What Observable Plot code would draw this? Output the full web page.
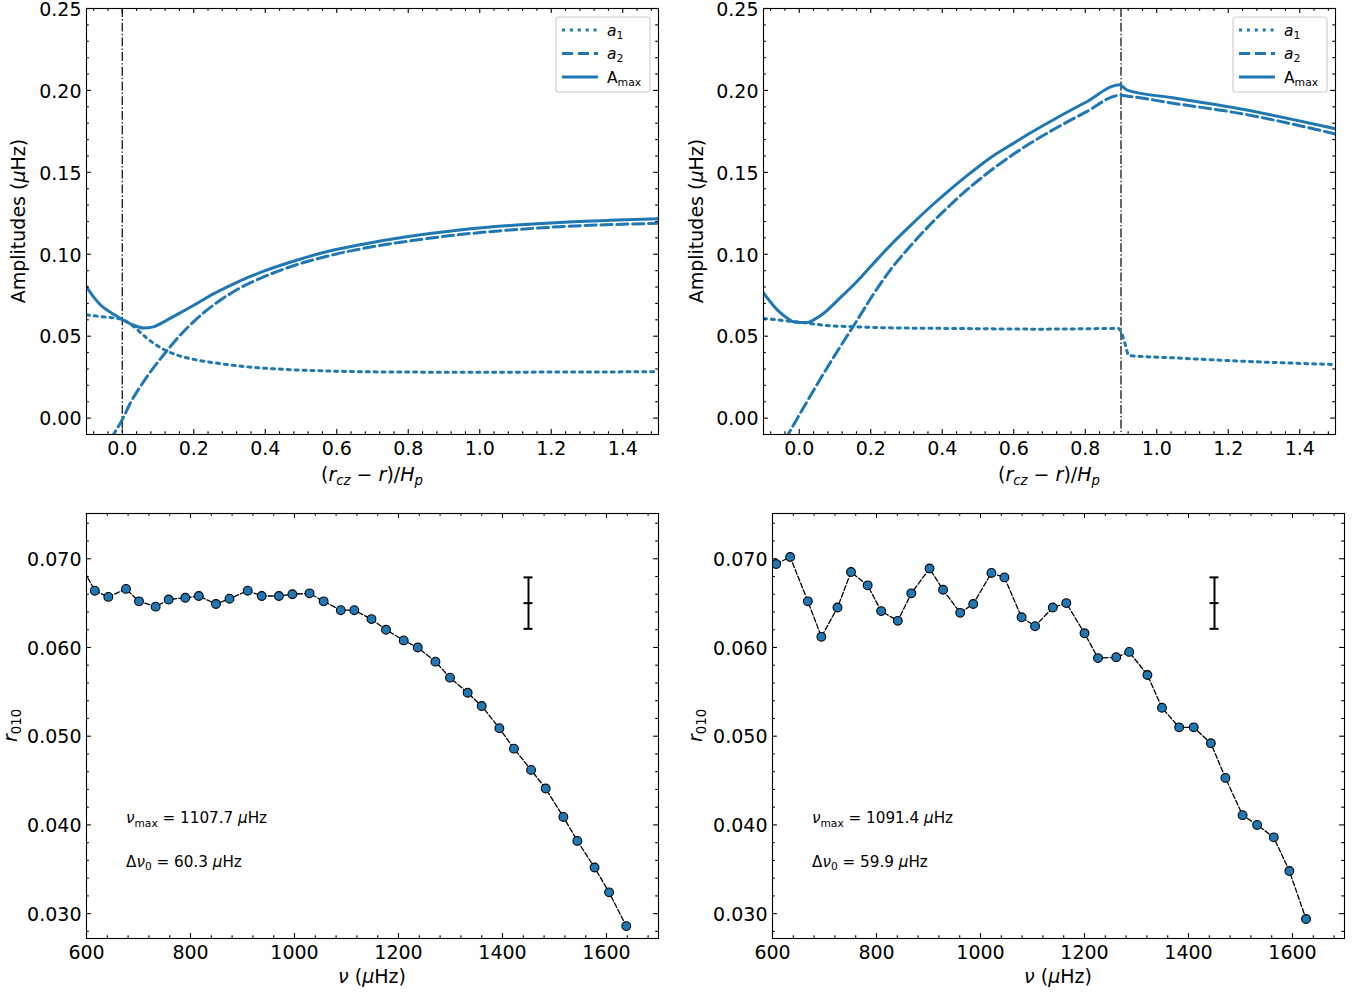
<!DOCTYPE html>
<html><head><meta charset="utf-8">
<script src="https://cdn.jsdelivr.net/npm/d3@7"></script>
<script src="https://cdn.jsdelivr.net/npm/@observablehq/plot@0.6"></script>
<style>
body{margin:0;background:#fff;}
#root{position:relative;width:1365px;height:996px;overflow:hidden;background:#fff;}
</style></head><body><div id="root"></div>
<script>
// ---------- Top-left panel data ----------
const tlA1x = [-0.1, -0.06, -0.02, 0, 0.03, 0.07, 0.11, 0.16, 0.21, 0.26, 0.35, 0.45, 0.55, 0.65, 0.8, 1.0, 1.2, 1.5];
const tlA1  = [0.0630, 0.0620, 0.0610, 0.0602, 0.0562, 0.0486, 0.0426, 0.0380, 0.0354, 0.0337, 0.0313, 0.0298, 0.0289, 0.0284, 0.0281, 0.0280, 0.0281, 0.0283];
const tlA2x = [-0.035, -0.024, 0, 0.022, 0.069, 0.115, 0.162, 0.208, 0.255, 0.33, 0.40, 0.49, 0.58, 0.67, 0.8, 0.944, 1.084, 1.224, 1.364, 1.5];
const tlA2  = [-0.0135, -0.0098, -0.001, 0.0089, 0.0252, 0.0384, 0.0506, 0.0606, 0.0690, 0.0795, 0.0866, 0.0938, 0.0992, 0.1034, 0.1080, 0.1120, 0.1148, 0.1168, 0.1181, 0.1189];
const tlAmx = [-0.1, -0.08, -0.06, -0.024, 0, 0.032, 0.06, 0.087, 0.125, 0.162, 0.208, 0.255, 0.33, 0.40, 0.49, 0.58, 0.67, 0.8, 0.944, 1.084, 1.224, 1.364, 1.5];
const tlAm  = [0.0801, 0.0738, 0.0689, 0.0634, 0.0602, 0.0567, 0.0550, 0.0557, 0.0598, 0.0642, 0.0699, 0.0758, 0.0838, 0.0900, 0.0965, 0.1020, 0.1060, 0.1108, 0.1148, 0.1175, 0.1194, 0.1207, 0.1217];
const tlVline = [0];

// ---------- Top-right panel data ----------
const trA1x = [-0.1, -0.024, 0.022, 0.069, 0.162, 0.255, 0.44, 0.673, 0.893, 0.902, 0.911, 0.922, 1.045, 1.232, 1.5];
const trA1  = [0.0608, 0.0591, 0.0580, 0.0567, 0.0557, 0.0551, 0.0547, 0.0543, 0.0547, 0.0516, 0.0455, 0.0382, 0.0368, 0.0348, 0.0327];
const trA2x = [-0.04, -0.03, 0.022, 0.069, 0.115, 0.162, 0.208, 0.255, 0.311, 0.367, 0.422, 0.478, 0.534, 0.59, 0.646, 0.72, 0.8, 0.897, 0.919, 1.045, 1.232, 1.5];
const trA2  = [-0.0133, -0.0095, 0.0102, 0.0275, 0.0437, 0.0598, 0.0758, 0.0905, 0.1050, 0.1183, 0.1300, 0.1410, 0.1508, 0.1597, 0.1677, 0.1772, 0.1866, 0.1970, 0.1965, 0.1922, 0.1860, 0.1734];
const trAmx = [-0.1, -0.061, -0.03, -0.015, 0.022, 0.04, 0.06, 0.115, 0.162, 0.208, 0.255, 0.311, 0.367, 0.422, 0.478, 0.534, 0.59, 0.646, 0.72, 0.8, 0.897, 0.905, 0.919, 1.045, 1.232, 1.5];
const trAm  = [0.0764, 0.0659, 0.0605, 0.0587, 0.0583, 0.0600, 0.0626, 0.0735, 0.0835, 0.0945, 0.1055, 0.1175, 0.1290, 0.1395, 0.1495, 0.1588, 0.1665, 0.1740, 0.1832, 0.1926, 0.2035, 0.2022, 0.2000, 0.1955, 0.1888, 0.1766];
const trVline = [0.9];

// ---------- Bottom-left panel data ----------
const blNu = [589, 616, 642, 676, 701, 733, 758, 790, 816, 849, 875, 910, 937, 970, 996, 1029, 1056, 1089, 1115, 1148, 1176, 1210, 1237, 1271, 1299, 1333, 1360, 1394, 1422, 1455, 1483, 1517, 1544, 1577, 1605, 1638];
const blR  = [0.0693, 0.0664, 0.0657, 0.0666, 0.0652, 0.0646, 0.0654, 0.0656, 0.0658, 0.0649, 0.0655, 0.0664, 0.0658, 0.0658, 0.0660, 0.0661, 0.0652, 0.0642, 0.0642, 0.0632, 0.0620, 0.0608, 0.0600, 0.0584, 0.0566, 0.0549, 0.0534, 0.0509, 0.0486, 0.0462, 0.0441, 0.0409, 0.0382, 0.0352, 0.0324, 0.0286];
const blNote = ["1107.7", "60.3"];

// ---------- Bottom-right panel data ----------
const brNu = [607, 634, 668, 694, 725, 751, 783, 809, 841, 867, 902, 928, 961, 986, 1021, 1046, 1079, 1105, 1139, 1165, 1200, 1226, 1261, 1286, 1321, 1349, 1382, 1410, 1443, 1471, 1504, 1532, 1564, 1594, 1626];
const brR  = [0.0694, 0.0702, 0.0652, 0.0612, 0.0645, 0.0685, 0.0670, 0.0641, 0.0630, 0.0661, 0.0689, 0.0665, 0.0639, 0.0649, 0.0684, 0.0679, 0.0634, 0.0624, 0.0645, 0.0650, 0.0616, 0.0588, 0.0589, 0.0595, 0.0569, 0.0532, 0.0510, 0.0510, 0.0492, 0.0453, 0.0411, 0.0400, 0.0386, 0.0348, 0.0294];
const brNote = ["1091.4", "59.9"];

// error bar (same in both lower panels)
const errNu = [1450];
const errR  = [0.0650];
const errE  = [0.0029];

// annotation anchors (data coords)
const noteNu = 677;
const noteR  = [0.0407, 0.0358];

// ---------- ticks ----------
const topXMajor = [0, 0.2, 0.4, 0.6, 0.8, 1.0, 1.2, 1.4];
const topYMajor = [0, 0.05, 0.10, 0.15, 0.20, 0.25];
const botXMajor = [600, 800, 1000, 1200, 1400, 1600];
const botYMajor = [0.030, 0.040, 0.050, 0.060, 0.070];
const notIn = (arr) => v => !arr.some(m => Math.abs(m - v) < 1e-9);
const topXMinor = d3.range(-0.08, 1.49, 0.04).map(v => +v.toFixed(3)).filter(notIn(topXMajor));
const topYMinor = d3.range(0.01, 0.245, 0.01).map(v => +v.toFixed(3)).filter(notIn(topYMajor));
const botXMinor = d3.range(640, 1690, 40).filter(notIn(botXMajor));
const botYMinor = d3.range(0.028, 0.0745, 0.002).map(v => +v.toFixed(4)).filter(notIn(botYMajor));

const BLUE = "#1f77b4";
const FONT = "DejaVu Sans";
const FS = 19;
const LW = 3;
const root = document.getElementById("root");

const zipXY = (xs, ys) => xs.map((x, i) => ({x, y: ys[i]}));

function rich(g, x, y, parts, fs, anchor = "start", transform = null) {
  const t = g.append("text").attr("x", x).attr("y", y)
    .attr("font-size", fs).attr("font-family", FONT).attr("fill", "black")
    .attr("text-anchor", anchor);
  if (transform) t.attr("transform", transform);
  let down = false;
  for (const p of parts) {
    const s = t.append("tspan").text(p.t);
    if (p.i) s.attr("font-style", "italic");
    if (p.sub) {
      s.attr("font-size", fs * 0.7);
      if (!down) { s.attr("dy", fs * 0.22); down = true; }
    } else if (down) { s.attr("dy", -fs * 0.22); down = false; }
  }
  return t;
}

function panel(cfg) {
  const {left, top, width, height, mL, mR, mT, mB, xDomain, yDomain,
         xMajor, xMinor, yMajor, yMinor, xFmt, yFmt, marks} = cfg;
  const iw = width - mL - mR, ih = height - mT - mB;
  const tk = {stroke: "black", strokeWidth: 1.1};
  const MJ = 4.9, MN = 2.8;
  const svg = Plot.plot({
    width, height,
    marginLeft: mL, marginRight: mR, marginTop: mT, marginBottom: mB,
    x: {domain: xDomain},
    y: {domain: yDomain},
    style: {fontFamily: FONT, fontSize: FS + "px", color: "black", background: "white", overflow: "visible"},
    marks: [
      ...marks,
      Plot.ruleX(xMajor, {x: d => d, insetTop: ih - MJ, ...tk}),
      Plot.ruleX(xMajor, {x: d => d, insetBottom: ih - MJ, ...tk}),
      Plot.ruleX(xMinor, {x: d => d, insetTop: ih - MN, ...tk}),
      Plot.ruleX(xMinor, {x: d => d, insetBottom: ih - MN, ...tk}),
      Plot.ruleY(yMajor, {y: d => d, insetRight: iw - MJ, ...tk}),
      Plot.ruleY(yMajor, {y: d => d, insetLeft: iw - MJ, ...tk}),
      Plot.ruleY(yMinor, {y: d => d, insetRight: iw - MN, ...tk}),
      Plot.ruleY(yMinor, {y: d => d, insetLeft: iw - MN, ...tk}),
      Plot.frame({stroke: "black", strokeWidth: 1.1}),
      Plot.axisX(xMajor, {tickSize: 0, tickPadding: 7, tickFormat: xFmt, label: null, fontSize: FS}),
      Plot.axisY(yMajor, {tickSize: 0, tickPadding: 5, tickFormat: yFmt, label: null, fontSize: FS, dy: 1.2})
    ]
  });
  svg.style.position = "absolute";
  svg.style.left = left + "px";
  svg.style.top = top + "px";
  root.appendChild(svg);
  return svg;
}

const lineStyles = [
  {strokeDasharray: "3,4.9"},
  {strokeDasharray: "11.1,4.8"},
  {strokeDasharray: null}
];

function topMarks(a1x, a1, a2x, a2, amx, am, vline) {
  const common = {x: "x", y: "y", stroke: BLUE, strokeWidth: LW, curve: "monotone-x", clip: true, strokeLinejoin: "round"};
  return [
    Plot.ruleX(vline, {x: d => d, stroke: "black", strokeWidth: 1.2, strokeDasharray: "8.9,2.2,1.4,2.2"}),
    Plot.line(zipXY(a1x, a1), {...common, strokeDasharray: lineStyles[0].strokeDasharray}),
    Plot.line(zipXY(a2x, a2), {...common, strokeDasharray: lineStyles[1].strokeDasharray}),
    Plot.line(zipXY(amx, am), {...common})
  ];
}

function botMarks(nu, r) {
  const data = nu.map((v, i) => ({nu: v, r: r[i]}));
  const err = errNu.map((v, i) => ({nu: v, r: errR[i], e: errE[i]}));
  const capHalf = 4.5 * 1100 / 572; // ~4.5 px in data units
  const caps = err.flatMap(d => [d.r - d.e, d.r, d.r + d.e].map(y => ({y, x1: d.nu - capHalf, x2: d.nu + capHalf})));
  return [
    Plot.line(data, {x: "nu", y: "r", stroke: "black", strokeWidth: 1.3, strokeDasharray: "5.1,2.2", clip: true}),
    Plot.dot(data, {x: "nu", y: "r", r: 4.4, fill: BLUE, stroke: "black", strokeWidth: 1.1, clip: true}),
    Plot.ruleX(err, {x: "nu", y1: d => d.r - d.e, y2: d => d.r + d.e, stroke: "black", strokeWidth: 2}),
    Plot.ruleY(caps, {y: "y", x1: "x1", x2: "x2", stroke: "black", strokeWidth: 2})
  ];
}

const legendLabels = [
  [{t: "a", i: true}, {t: "1", sub: true}],
  [{t: "a", i: true}, {t: "2", sub: true}],
  [{t: "A"}, {t: "max", sub: true}]
];

function legend(svg, x0, y0) {
  const g = d3.select(svg).append("g");
  g.append("rect").attr("x", x0).attr("y", y0).attr("width", 94).attr("height", 75)
    .attr("rx", 3).attr("fill", "white").attr("fill-opacity", 0.8)
    .attr("stroke", "#cccccc").attr("stroke-width", 1.1);
  legendLabels.forEach((lab, i) => {
    const cy = y0 + 13 + i * 23.5;
    const ln = g.append("line").attr("x1", x0 + 6).attr("x2", x0 + 42).attr("y1", cy).attr("y2", cy)
      .attr("stroke", BLUE).attr("stroke-width", LW);
    if (lineStyles[i].strokeDasharray) ln.attr("stroke-dasharray", lineStyles[i].strokeDasharray);
    rich(g, x0 + 51, cy + 5.5, lab, 15.5);
  });
}

const xLabTop = [{t: "("}, {t: "r", i: true}, {t: "cz", i: true, sub: true}, {t: " − "}, {t: "r", i: true}, {t: ")/"}, {t: "H", i: true}, {t: "p", i: true, sub: true}];
const yLabTop = [{t: "Amplitudes ("}, {t: "μ", i: true}, {t: "Hz)"}];
const xLabBot = [{t: "ν", i: true}, {t: " ("}, {t: "μ", i: true}, {t: "Hz)"}];
const yLabBot = [{t: "r", i: true}, {t: "010", sub: true}];

function labels(svg, xc, xy, ybx, yc, xl, yl) {
  const g = d3.select(svg).append("g");
  rich(g, xc, xy, xl, FS, "middle");
  rich(g, 0, 0, yl, FS, "middle", `translate(${ybx},${yc}) rotate(-90)`);
}

function notes(svg, vals) {
  const g = d3.select(svg).append("g");
  const sx = svg.scale("x"), sy = svg.scale("y");
  const x = sx.apply(noteNu);
  const fs = 15.2;
  rich(g, x, sy.apply(noteR[0]) + 5.2, [{t: "ν", i: true}, {t: "max", sub: true}, {t: " = " + vals[0] + " "}, {t: "μ", i: true}, {t: "Hz"}], fs);
  rich(g, x, sy.apply(noteR[1]) + 5.2, [{t: "Δ"}, {t: "ν", i: true}, {t: "0", sub: true}, {t: " = " + vals[1] + " "}, {t: "μ", i: true}, {t: "Hz"}], fs);
}

// ---------- build panels ----------
const topCommon = {height: 496, mT: 8, mB: 62, xDomain: [-0.1, 1.5], yDomain: [-0.01, 0.25],
  xMajor: topXMajor, xMinor: topXMinor, yMajor: topYMajor, yMinor: topYMinor, xFmt: ".1f", yFmt: ".2f"};
const botCommon = {height: 500, mT: 17, mB: 58, xDomain: [600, 1700], yDomain: [0.0272, 0.0751],
  xMajor: botXMajor, xMinor: botXMinor, yMajor: botYMajor, yMinor: botYMinor, xFmt: "d", yFmt: ".3f"};

const tl = panel({...topCommon, left: 0, top: 0, width: 680, mL: 86, mR: 22,
  marks: topMarks(tlA1x, tlA1, tlA2x, tlA2, tlAmx, tlAm, tlVline)});
legend(tl, 556, 17);
labels(tl, 372, 481, 25, 221, xLabTop, yLabTop);

const tr = panel({...topCommon, left: 680, top: 0, width: 685, mL: 83, mR: 30,
  marks: topMarks(trA1x, trA1, trA2x, trA2, trAmx, trAm, trVline)});
legend(tr, 553, 17);
labels(tr, 369, 481, 23, 221, xLabTop, yLabTop);

const bl = panel({...botCommon, left: 0, top: 496, width: 680, mL: 86, mR: 22,
  marks: botMarks(blNu, blR)});
notes(bl, blNote);
labels(bl, 372, 487, 17, 229.5, xLabBot, yLabBot);

const br = panel({...botCommon, left: 680, top: 496, width: 685, mL: 92, mR: 21,
  marks: botMarks(brNu, brR)});
notes(br, brNote);
labels(br, 378, 487, 22, 229.5, xLabBot, yLabBot);
</script>
</body></html>
